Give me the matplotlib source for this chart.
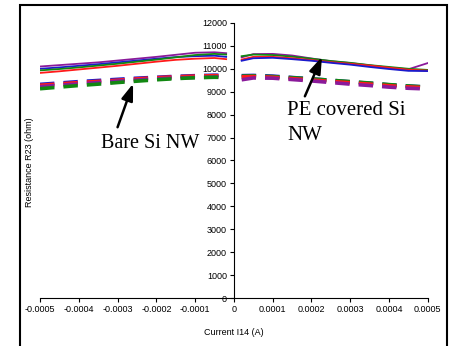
import matplotlib
matplotlib.use("Agg")
import matplotlib.pyplot as plt
from matplotlib.patches import Rectangle
from matplotlib.ticker import FixedLocator, FixedFormatter

x_neg = [-0.0005, -0.00045, -0.0004, -0.00035, -0.0003, -0.00025, -0.0002, -0.00015, -0.0001, -0.00005, -0.00002]
x_pos = [0.00002, 0.00005, 0.0001, 0.00015, 0.0002, 0.00025, 0.0003, 0.00035, 0.0004, 0.00045, 0.0005]

# Solid curves (upper set)
solid_neg = {
    "purple": [10100, 10160, 10220, 10280, 10360, 10440, 10520, 10610, 10700, 10720, 10680],
    "blue":   [10000, 10060, 10130, 10200, 10280, 10360, 10440, 10510, 10550, 10570, 10520],
    "green":  [9930, 9990, 10060, 10140, 10220, 10310, 10400, 10500, 10600, 10650, 10620],
    "red":    [9820, 9890, 9970, 10050, 10130, 10220, 10310, 10390, 10440, 10470, 10420],
}
solid_pos = {
    "purple": [10500, 10640, 10650, 10580, 10450, 10330, 10250, 10150, 10050, 9980, 10250],
    "green":  [10550, 10620, 10600, 10530, 10440, 10340, 10260, 10160, 10080, 10000, 9950],
    "red":    [10400, 10520, 10520, 10460, 10380, 10290, 10220, 10140, 10050, 9960, 9920],
    "blue":   [10350, 10460, 10480, 10420, 10350, 10260, 10180, 10080, 9990, 9910, 9900],
}
# Dashed curves (lower set)
dashed_neg = {
    "blue":   [9320, 9380, 9440, 9490, 9540, 9590, 9630, 9670, 9700, 9720, 9720],
    "red":    [9280, 9340, 9400, 9450, 9500, 9560, 9610, 9650, 9680, 9700, 9680],
    "purple": [9220, 9280, 9340, 9400, 9460, 9510, 9560, 9600, 9620, 9640, 9650],
    "green":  [9130, 9200, 9270, 9330, 9400, 9460, 9520, 9570, 9610, 9630, 9620],
}
dashed_pos = {
    "blue":   [9700, 9710, 9680, 9620, 9560, 9500, 9430, 9370, 9300, 9250, 9200],
    "green":  [9680, 9690, 9660, 9610, 9560, 9500, 9440, 9380, 9310, 9250, 9200],
    "red":    [9650, 9660, 9630, 9570, 9510, 9450, 9390, 9330, 9260, 9210, 9170],
    "purple": [9520, 9600, 9590, 9530, 9470, 9400, 9330, 9270, 9200, 9150, 9120],
}

colors = {"blue": "#1a1acc", "red": "#ff1a1a", "green": "#118811", "purple": "#8a1a9a"}

xticks = [-0.0005, -0.0004, -0.0003, -0.0002, -0.0001, 0, 0.0001, 0.0002, 0.0003, 0.0004, 0.0005]
xtick_labels = ["-0.0005", "-0.0004", "-0.0003", "-0.0002", "-0.0001", "0",
                "0.0001", "0.0002", "0.0003", "0.0004", "0.0005"]
yticks = [0, 1000, 2000, 3000, 4000, 5000, 6000, 7000, 8000, 9000, 10000, 11000, 12000]

fig = plt.figure(figsize=(4.52, 3.46), dpi=100)
ax = fig.add_axes([0.0885, 0.1387, 0.858, 0.795])

for name, ys in dashed_neg.items():
    ax.plot(x_neg, ys, color=colors[name], lw=2.6, dashes=(4, 2.5))
for name, ys in dashed_pos.items():
    ax.plot(x_pos, ys, color=colors[name], lw=2.6, dashes=(4, 2.5))
for name, ys in solid_neg.items():
    ax.plot(x_neg, ys, color=colors[name], lw=1.3)
for name, ys in solid_pos.items():
    ax.plot(x_pos, ys, color=colors[name], lw=1.3)

ax.set_xlim(-0.0005, 0.0005)
ax.set_ylim(0, 12000)
ax.spines["left"].set_position(("data", 0))
ax.spines["bottom"].set_position(("data", 0))
ax.spines["top"].set_visible(False)
ax.spines["right"].set_visible(False)
ax.patch.set_alpha(0)

ax.xaxis.set_major_locator(FixedLocator(xticks))
ax.xaxis.set_major_formatter(FixedFormatter(xtick_labels))
ax.set_yticks(yticks)
ax.tick_params(axis="both", direction="out", length=3, width=0.8, labelsize=6.5,
               colors="black", pad=2)
for lab in ax.get_xticklabels() + ax.get_yticklabels():
    lab.set_family("Liberation Sans")

serif = "Liberation Serif"
arrow = dict(arrowstyle="-|>,head_length=1.0,head_width=0.35", color="black", lw=1.8,
             shrinkA=0, shrinkB=0)
ax.annotate("", xy=(-0.00026, 9350), xytext=(-0.0003, 7450), arrowprops=arrow)
ax.text(-0.000088, 6545, "Bare Si NW", family=serif, fontsize=14.5, ha="right", va="baseline")
ax.annotate("", xy=(0.000227, 10520), xytext=(0.000183, 8800), arrowprops=arrow)
ax.text(0.000137, 7984, "PE covered Si", family=serif, fontsize=15, ha="left", va="baseline")
ax.text(0.000137, 6894, "NW", family=serif, fontsize=15, ha="left", va="baseline")

fig.text(0.066, 0.532, "Resistance R23 (ohm)", rotation=90, ha="center", va="center",
         fontsize=6.5, family="Liberation Sans")
fig.text(0.518, 0.04, "Current I14 (A)", ha="center", va="center",
         fontsize=6.5, family="Liberation Sans")

fig.patches.append(Rectangle((0.044, -0.02), 0.945, 1.006, transform=fig.transFigure,
                             fill=False, edgecolor="black", lw=1.5))

fig.savefig("out.png", dpi=100)
